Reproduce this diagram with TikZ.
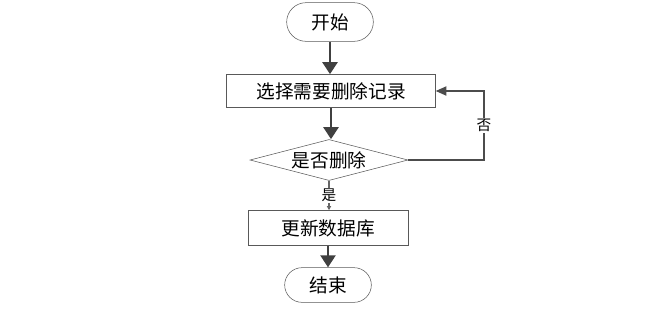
\documentclass[tikz,border=0pt]{standalone}
\usepackage{fontspec}
\setmainfont{Noto Sans CJK SC}
\usetikzlibrary{shapes.geometric,shapes.misc,arrows.meta}

\begin{document}
\begin{tikzpicture}[x=0.75pt,y=-0.75pt,
        term/.style={draw=black!65, rounded rectangle, minimum width=65pt, minimum height=29pt, inner sep=0pt, font=\fontsize{14}{16}\selectfont},
        proc/.style={draw=black!65, rectangle, inner sep=0pt, font=\fontsize{14}{16}\selectfont},
        decide/.style={draw=black!65, diamond, aspect=3.85, minimum width=118.5pt, minimum height=30.75pt, inner sep=0pt, font=\fontsize{14}{16}\selectfont},
        flow/.style={draw=black!75, line width=2.2pt, -{Triangle[length=9pt,width=11pt]}},
        back/.style={draw=black!70, line width=0.8pt, -{Triangle[length=8pt,width=7pt]}},
        yes/.style={draw=black!60, line width=1pt, -{Triangle[length=3pt,width=3pt]}}]
        \useasboundingbox (0,0) rectangle (666,319);

        \node[term] (start) at (330, 22) {开始};
        \node[proc, minimum width=156.75pt, minimum height=24.75pt] (select) at (331, 91) {选择需要删除记录};
        \node[decide] (ask) at (329, 160) {是否删除};
        \node[proc, minimum width=120pt, minimum height=26.25pt] (update) at (328, 228) {更新数据库};
        \node[term, minimum height=26pt] (stop) at (328, 285) {结束};
        \coordinate (turn) at (484, 91);

        \draw[flow] (start.south) -- (start.south |- select.north);
        \draw[flow] (select.south) -- (select.south |- ask.north);
        \draw[yes] (ask.south) -- node[fill=white, inner sep=1pt, font=\fontsize{11}{12}\selectfont] {是} (ask.south |- update.north);
        \draw[flow] (update.south) -- (stop.north);
        \draw[back] (ask.east) -| node[pos=0.75, fill=white, inner sep=1pt, font=\fontsize{11}{12}\selectfont] {否} (turn) -- (select.east);
    \end{tikzpicture}
\end{document}
